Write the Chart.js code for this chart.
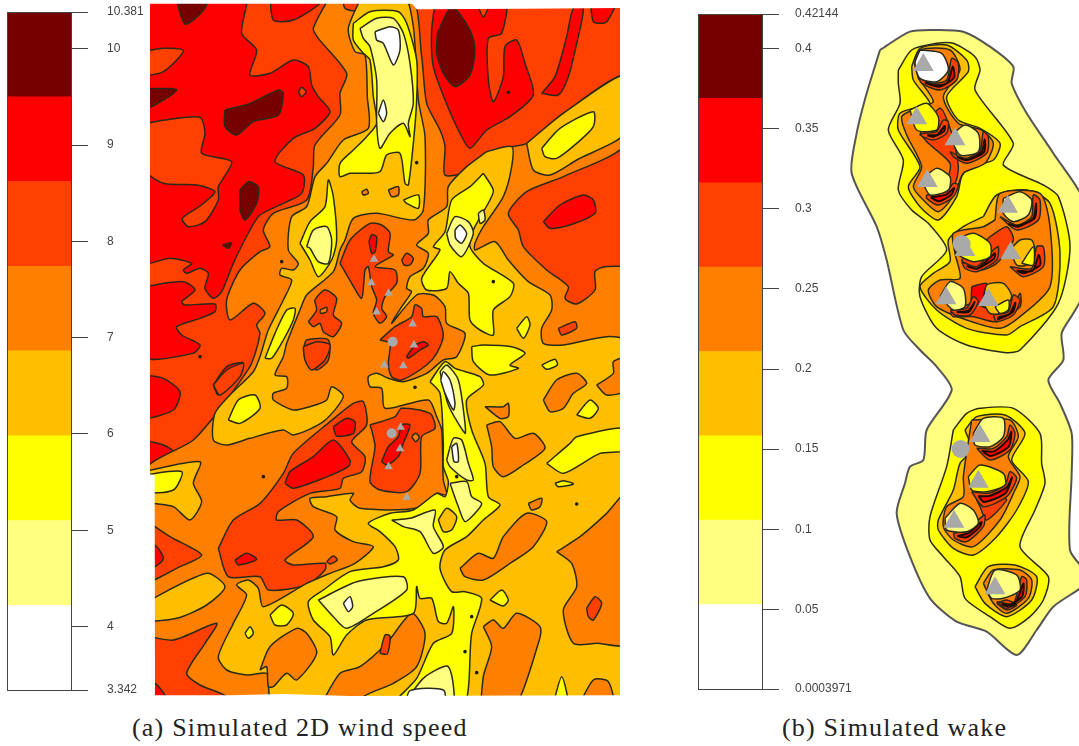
<!DOCTYPE html>
<html>
<head>
<meta charset="utf-8">
<title>Simulated wind speed and wake</title>
<script src="https://cdn.jsdelivr.net/npm/chart.js@4"></script>
<style>
  html, body { margin: 0; background: #fff; }
  canvas { position: absolute; }
  .cap { position: absolute; top: 713px; font-family: "Liberation Serif", serif; font-size: 26px; letter-spacing: 1.2px; color: #222; white-space: nowrap; }
</style>
</head>
<body>
<canvas id="barA" width="150" height="700" style="left:0;top:0"></canvas>
<canvas id="mapA" width="470" height="700" style="left:150px;top:0"></canvas>
<canvas id="barB" width="170" height="700" style="left:691px;top:0"></canvas>
<canvas id="mapB" width="239" height="650" style="left:840px;top:20px"></canvas>
<div class="cap" style="left:132px">(a) Simulated 2D wind speed</div>
<div class="cap" style="left:782px">(b) Simulated wake</div>
<script>
// bands, low value to high value
const bandColors = ["#FFFFFF", "#FFFF80", "#FFFF00", "#FFBF00", "#FF8000", "#FF4000", "#FF0000", "#760000"];

const speedBreaks = [3.342, 4.222, 5.102, 5.982, 6.862, 7.741, 8.621, 9.501, 10.381];
const speedTicks = [3.342, 4, 5, 6, 7, 8, 9, 10, 10.381];
const wakeBreaks = [0.0003971, 0.0530, 0.1057, 0.1583, 0.2109, 0.2636, 0.3162, 0.3688, 0.42144];
const wakeTicks = [0.0003971, 0.05, 0.1, 0.15, 0.2, 0.25, 0.3, 0.35, 0.4, 0.42144];

// contour rings: [band, x, y, x, y, ...] in map units, painted in this order
const windBase = [[5, -20,-20, 1430,-20, 1430,2120, -20,2120]];

const windUpperLeft = [
  [6, -20,-20, 285,-20, 275,100, 320,150, 300,225, 360,220, 430,180, 475,200, 485,255, 505,290, 540,335, 495,385, 430,415, 375,485, 460,525, 455,580, 400,610, 330,645, 300,690, 250,790, 215,875, 190,895, 165,865, 175,820, 150,805, 110,820, 100,810, 125,790, 60,775, -20,785],
  [5, -20,372, 60,358, 150,352, 165,400, 155,460, 245,485, 205,560, 205,600, 165,665, 115,680, 97,655, 150,618, 195,575, 140,555, 40,550, -20,505],
  [5, -20,155, 40,145, 100,152, 40,215, -20,222],
  [6, -20,860, 100,845, 135,870, 95,905, 105,915, 195,912, 195,935, 150,955, 80,980, 95,1005, 150,1035, 130,1060, -20,1070],
  [6, 360,-20, 370,60, 430,60, 510,10, 510,-20],
  [7, 75,-20, 105,72, 165,25, 172,-20],
  [7, -20,265, 80,270, -20,328],
  [7, 225,330, 300,310, 385,270, 400,280, 385,345, 310,365, 260,405, 225,380],
  [7, 270,570, 295,545, 325,560, 320,610, 285,660, 270,630],
  [7, 218,735, 245,728, 235,745],
  [5, 445,275, 455,262, 468,275, 455,290],
  [6, 190,1155, 230,1100, 280,1088, 245,1130, 205,1185],
  [6, -20,1125, 40,1135, 90,1175, 70,1230, -20,1250],
  [6, -20,1320, 40,1335, 70,1355, 40,1385, -20,1400]
];

const windUpperRight = [
  [6, 860,-20, 845,90, 850,200, 885,300, 930,400, 960,445, 1010,390, 1080,350, 1150,285, 1125,190, 1100,120, 1065,140, 1060,230, 1030,305, 1015,240, 1015,115, 1055,100, 1065,-20],
  [7, 862,100, 905,20, 960,90, 975,150, 960,225, 915,260, 880,220, 860,160],
  [5, 970,-20, 1000,50, 1025,-20],
  [6, 1175,280, 1215,230, 1250,110, 1270,25, 1300,25, 1280,130, 1255,230, 1225,285],
  [6, 1320,-20, 1330,65, 1370,65, 1405,-20],
  [6, 1180,665, 1230,615, 1300,585, 1330,600, 1335,640, 1260,675, 1200,685]
];

const windOrange = [
  [4, 545,-20, 490,85, 505,115, 590,220, 570,280, 570,345, 495,435, 490,500, 470,600, 370,640, 340,690, 360,740, 330,755, 270,810, 230,900, 240,960, 310,910, 345,940, 320,975, 330,1000, 305,1090, 280,1130, 200,1240, 130,1320, -20,1420, -20,2120, 1430,2120, 1430,810, 1365,800, 1335,815, 1335,870, 1280,912, 1245,895, 1255,860, 1190,810, 1120,740, 1105,690, 1075,640, 1130,575, 1240,530, 1430,430, 1430,225, 1240,340, 1130,430, 1085,440, 1020,455, 950,515, 885,525, 885,440, 870,390, 830,310, 815,170, 780,-20],
  [5, 575,-20, 585,25, 620,30, 630,-20]
];

// islands sitting on the orange, y measured from the centre of the map
const windIslands = [
  [5, 205,595, 250,510, 330,460, 400,370, 430,310, 540,215, 610,160, 640,155, 650,225, 605,275, 645,320, 635,365, 580,385, 570,415, 480,430, 385,485, 380,510, 440,510, 490,560, 405,630, 430,645, 525,640, 525,660, 470,705, 355,720, 330,680, 235,680],
  [6, 405,400, 420,365, 490,320, 550,270, 600,330, 595,350, 520,385, 430,415],
  [6, 550,230, 590,205, 615,215, 610,250, 560,258],
  [6, 255,630, 290,610, 320,628, 265,645],
  [5, 530,635, 550,618, 562,630, 540,642],
  [5, -20,505, 60,560, 155,615, 90,650, -20,695],
  [6, -20,585, 15,585, 40,625, 15,650, -20,650],
  [5, -20,855, 70,870, 200,820, 165,880, 110,970, 150,1005, 230,1040, 230,1080, -20,1080],
  [6, -20,1000, 15,1000, 50,1045, 50,1080, -20,1080],
  [5, 660,225, 735,200, 755,175, 840,190, 855,235, 815,260, 810,370, 770,425, 690,420, 660,395, 675,290, 665,240],
  [6, 695,335, 715,290, 745,260, 755,225, 780,225, 760,280, 745,320, 710,345],
  [4, 785,260, 797,250, 808,262, 797,275],
  [5, 460,0, 470,40, 500,60, 535,30, 535,-30, 470,-30],
  [5, 190,105, 230,60, 280,40, 270,80, 210,135]
];

const windAmber = [
  [3, 640,-20, 595,85, 615,155, 645,165, 652,290, 655,385, 580,420, 530,490, 495,530, 470,620, 425,650, 415,750, 445,790, 430,810, 395,805, 390,825, 425,840, 400,900, 355,990, 330,1070, 310,1115, 240,1185, 195,1240, 190,1320, 230,1335, 300,1315, 400,1290, 430,1305, 520,1265, 580,1190, 545,1160, 530,1200, 480,1220, 430,1230, 370,1200, 370,1180, 410,1165, 410,1130, 375,1125, 400,1070, 410,1030, 450,930, 470,885, 550,815, 570,750, 585,720, 610,655, 680,640, 790,660, 820,630, 825,410, 805,300, 790,80, 760,-20],
  [3, 1010,455, 1085,440, 1085,500, 1060,590, 1000,680, 975,730, 975,750, 1035,725, 1075,780, 1135,845, 1200,885, 1205,930, 1175,985, 1180,1030, 1240,1035, 1370,1010, 1430,1025, 1430,2120, 370,2120, 355,2055, 350,2020, 290,2025, 230,2010, 205,1970, 250,1870, 290,1785, 260,1755, 295,1740, 325,1765, 340,1820, 470,1750, 540,1720, 615,1690, 670,1640, 610,1625, 555,1590, 560,1550, 490,1520, 480,1495, 530,1490, 610,1480, 600,1500, 630,1525, 795,1525, 860,1480, 890,1485, 880,1440, 875,1290, 860,1250, 835,1200, 705,1225, 695,1165, 660,1160, 655,1130, 680,1120, 715,1135, 760,1145, 830,1120, 880,1080, 920,1070, 945,1000, 890,970, 885,920, 850,885, 800,885, 725,970, 755,920, 785,875, 770,865, 780,830, 820,805, 835,760, 800,735, 835,700, 835,660, 890,620, 895,560, 950,500],
  [3, 1130,430, 1240,340, 1430,225, 1430,395, 1280,480, 1200,525, 1150,510]
];

// amber blocks below use y from the centre of the map too
const windAmberSouth = [
  [3, -20,760, 170,670, 225,710, 170,765, 80,805, -20,810],
  [3, -20,365, 150,335, 130,400, 155,455, 120,510, 70,470, -20,450]
];

const windOnAmber = [
  [4, 1180,150, 1220,90, 1280,70, 1310,100, 1270,130, 1240,175, 1200,185],
  [4, 1340,105, 1390,70, 1390,35, 1430,25, 1430,120, 1370,135],
  [4, 1005,170, 1060,170, 1075,160, 1075,200, 1050,205],
  [4, 1010,225, 1050,215, 1095,265, 1150,250, 1185,295, 1120,345, 1060,380, 1030,350, 1025,290],
  [4, 930,655, 985,610, 1030,625, 1060,560, 1130,490, 1190,515, 1150,590, 1080,640, 1000,690, 945,680],
  [4, 1220,605, 1290,560, 1370,490, 1430,430, 1430,880, 1340,880, 1270,880, 1240,780, 1280,710, 1265,640],
  [5, 1310,775, 1335,740, 1355,760, 1330,810, 1315,800],
  [4, 505,1080, 570,970, 630,950, 710,880, 785,790, 825,850, 800,950, 730,1000, 640,1040, 620,1080],
  [5, 690,910, 705,855, 720,858, 712,912],
  [4, 1000,830, 1030,810, 1060,835, 1100,790, 1170,830, 1165,880, 1090,1080, 1000,1080, 1000,980, 1025,890],
  [4, 1280,1080, 1330,990, 1375,995, 1390,1080],
  [4, 1135,460, 1175,445, 1170,470, 1145,480],
  [4, 330,960, 360,890, 440,835, 470,850, 500,910, 440,990, 410,970, 370,1010, 355,1010, 350,950]
];

const windYellow = [
  [2, 610,70, 610,120, 640,160, 660,180, 670,290, 680,370, 650,410, 610,450, 570,490, 570,530, 600,520, 630,520, 690,515, 710,465, 750,460, 765,550, 775,555, 790,430, 800,300, 800,180, 770,70, 745,35, 660,35],
  [1, 630,85, 680,55, 730,55, 760,100, 780,190, 790,310, 775,370, 780,410, 760,370, 720,400, 690,445, 680,370, 680,240, 660,140, 640,115],
  [0, 675,95, 720,80, 745,90, 750,150, 730,195, 700,130, 680,120],
  [0, 685,340, 700,300, 710,340, 700,365],
  [2, 450,730, 480,665, 525,620, 535,540, 550,590, 560,720, 545,780, 505,830, 480,780],
  [1, 470,740, 490,690, 530,680, 545,720, 535,790, 505,785, 480,745],
  [2, 345,1075, 375,1000, 410,930, 435,925, 430,960, 400,1020, 365,1075],
  [2, 1000,520, 1030,570, 1020,600, 970,690, 960,740, 1000,790, 1090,850, 1080,890, 1030,930, 1030,1005, 990,990, 960,960, 955,880, 925,850, 900,815, 890,865, 830,870, 815,835, 870,750, 850,740, 885,695, 905,600, 960,560],
  [1, 890,700, 915,650, 955,665, 970,700, 935,770, 900,735],
  [0, 915,690, 930,675, 950,700, 935,730, 917,715],
  [1, 985,640, 1000,630, 1005,660, 990,670],
  [2, 1175,445, 1230,385, 1330,335, 1330,380, 1280,430, 1220,475, 1185,470],
  [2, 1100,985, 1130,950, 1140,975, 1120,1015],
  [5, 1225,985, 1275,965, 1280,985, 1235,1005],
  [2, 965,1040, 1000,1035, 1085,1040, 1125,1060, 1080,1095, 1105,1105, 1020,1125, 970,1085],
  [2, 760,600, 805,585, 805,625, 770,610],
  [4, 715,570, 745,560, 745,585, 725,590],
  [4, 635,575, 650,568, 655,580, 640,585]
];

const windYellowSouth = [
  [2, 840,95, 885,35, 915,55, 990,80, 1000,105, 950,150, 965,240, 1005,340, 1015,440, 1050,465, 1000,510, 950,560, 885,600, 870,655, 905,725, 945,725, 995,745, 965,850, 935,1080, 720,1080, 800,985, 850,880, 905,850, 910,770, 890,820, 865,815, 845,745, 810,745, 800,710, 790,790, 650,810, 590,855, 550,915, 540,860, 490,810, 475,755, 520,720, 600,665, 700,650, 745,630, 735,590, 690,545, 655,520, 720,490, 790,480, 860,430, 885,440, 895,395, 880,350, 880,280, 870,130],
  [3, 865,510, 890,475, 920,500, 905,540, 880,545],
  [1, 725,510, 780,505, 855,480, 850,530, 880,590, 850,610, 810,545, 760,530],
  [1, 900,400, 950,395, 965,440, 995,460, 975,490, 945,515, 925,470],
  [1, 870,65, 890,45, 925,90, 945,220, 945,250, 895,165],
  [0, 872,90, 880,65, 900,90, 915,160, 910,180, 885,130],
  [1, 890,330, 910,265, 935,270, 955,340, 970,390, 950,390, 900,350],
  [0, 905,290, 920,280, 925,335, 912,335],
  [1, 505,750, 620,695, 760,680, 770,720, 670,790, 590,835, 550,800],
  [0, 580,760, 600,740, 608,770, 595,785],
  [1, 750,1080, 820,985, 895,950, 905,1080],
  [0, 765,1070, 780,1022, 880,1020, 880,1070],
  [2, 360,795, 395,765, 430,790, 410,825, 375,825],
  [2, 285,850, 300,830, 310,850, 295,865],
  [2, 1020,750, 1055,720, 1075,750, 1060,768],
  [2, 1190,340, 1260,280, 1280,260, 1430,235, 1430,300, 1350,310, 1240,370],
  [2, 1215,400, 1240,392, 1270,402, 1225,410],
  [2, 1175,45, 1215,28, 1222,45, 1190,58],
  [2, 1205,1080, 1235,980, 1255,1080],
  [2, 1280,195, 1320,150, 1345,175, 1320,205],
  [2, 235,210, 265,150, 315,135, 330,175, 270,220],
  [2, -20,375, 95,365, 70,420, -20,425]
];

const windMiddle = [
  [5, 570,790, 600,720, 660,670, 695,675, 720,700, 715,755, 730,765, 675,800, 735,810, 740,850, 705,890, 695,925, 710,950, 690,970, 670,940, 680,900, 665,860, 655,800, 645,810, 635,895, 605,850],
  [6, 657,725, 665,705, 680,710, 675,755, 665,760],
  [5, 755,780, 770,760, 790,775, 780,795, 762,795],
  [5, 475,965, 500,930, 495,900, 525,870, 560,895, 550,945, 575,970, 550,1010, 520,995, 510,970, 490,980],
  [4, 510,930, 530,922, 530,935, 512,940],
  [5, 460,1040, 500,1025, 540,1035, 525,1080, 485,1110, 465,1080],
  [5, 690,1020, 735,980, 785,950, 795,915, 815,925, 820,950, 860,950, 880,1005, 860,1060, 830,1095, 755,1140, 725,1130, 715,1090, 720,1030],
  [6, 795,1035, 820,1025, 835,1035, 810,1050, 775,1075, 770,1070]
];

const windMask = [
  [0, -20,-20, 1430,-20, 1430,11, -20,11],
  [0, 760,-20, 1430,-20, 1430,24, 1120,26, 800,28],
  [0, -20,1422, 14,1425, 15,2120, -20,2120],
  [0, -20,2086, 240,2086, 400,2082, 600,2088, 1430,2086, 1430,2120, -20,2120]
];

const windTriangleX = [672, 664, 716, 680, 788, 792, 703, 760, 752, 750, 716, 770];
const windTriangleY = [778, 848, 880, 936, 972, 1035, 1095, 1097, 1282, 1346, 1400, 1492];
const windCircleX = [728, 725];
const windCircleY = [1025, 1300];
const windDotX = [1075, 800, 150, 340, 795, 1280, 945, 965, 980, 395, 1030, 920];
const windDotY = [277, 488, 1070, 1430, 1162, 1512, 1955, 1850, 2018, 785, 845, 1430];

const wakeOutline = [
  [1, 120,90, 210,35, 280,30, 370,35, 450,80, 520,140, 515,190, 560,280, 640,400, 740,560, 740,800, 700,880, 665,940, 670,1020, 625,1080, 660,1150, 695,1240, 695,1360, 690,1590, 740,1660, 740,1690, 640,1760, 590,1830, 530,1905, 440,1835, 350,1805, 270,1735, 210,1610, 170,1480, 195,1390, 210,1340, 250,1320, 260,1230, 335,1110, 290,1040, 240,990, 190,930, 140,720, 110,620, 35,460, 50,340, 80,220],
  [2, 175,150, 215,90, 290,70, 340,70, 405,110, 420,150, 405,210, 520,370, 490,435, 610,495, 655,530, 690,680, 655,850, 540,990, 500,998, 380,975, 290,925, 240,830, 245,770, 320,690, 265,610, 215,570, 175,510, 190,420, 145,330, 180,250, 175,190],
  [2, 340,1230, 380,1180, 420,1165, 520,1165, 600,1240, 605,1330, 615,1390, 585,1470, 540,1580, 625,1670, 610,1740, 570,1790, 510,1825, 450,1790, 375,1735, 360,1670, 310,1610, 270,1560, 270,1490, 320,1340]
];

const wakeNorth = [
  [3, 215,140, 240,85, 320,75, 380,120, 385,155, 320,230, 355,300, 420,325, 480,370, 460,420, 390,440, 365,470, 350,530, 295,600, 240,560, 205,500, 240,440, 175,330, 180,280, 240,260, 270,250, 220,180],
  [4, 235,175, 225,130, 240,90, 330,90, 360,150, 310,230, 355,310, 425,330, 460,370, 435,430, 370,460, 345,520, 295,575, 250,540, 220,500, 245,440, 200,345, 185,290, 230,265, 280,245],
  [5, 240,340, 300,265, 335,340, 355,440, 345,490, 300,540, 270,530, 320,480, 330,430, 265,370],
  [3, 430,590, 470,525, 560,510, 630,550, 660,700, 640,860, 540,920, 500,945, 380,925, 290,870, 240,800, 280,760, 330,725, 325,660, 370,620],
  [4, 465,600, 480,520, 600,520, 630,620, 630,800, 540,890, 480,925, 380,900, 290,860, 265,810, 300,780, 360,775, 345,700, 340,640, 430,620],
  [5, 450,650, 500,620, 520,660, 470,730, 420,750, 365,720, 400,700],
  [6, 395,800, 440,790, 430,830, 420,870, 395,875],
  [5, 330,880, 400,850, 500,890, 540,820, 540,860, 470,905, 400,890, 340,890]
];

const wakeSouth = [
  [3, 375,240, 410,200, 495,195, 555,250, 515,330, 565,395, 530,480, 470,560, 400,615, 340,595, 295,540, 295,510, 340,420, 360,340, 395,300],
  [4, 395,210, 510,210, 535,260, 505,320, 540,380, 525,420, 480,510, 400,590, 340,570, 310,530, 320,470, 370,440, 370,380],
  [5, 410,450, 480,440, 500,450, 440,510, 420,470],
  [3, 405,710, 445,650, 525,645, 590,680, 575,750, 500,800, 435,760],
  [4, 430,700, 460,660, 540,660, 575,690, 565,745, 500,790, 460,760],
  [5, 470,760, 500,750, 530,765, 500,780]
];

// orange-red rims behind each turbine, a red crescent inside, then the cores
const wakeRimsNorth = [
  [5, 235,170, 275,190, 320,180, 335,115, 355,130, 350,180, 300,210, 245,190],
  [5, 250,340, 290,335, 310,300, 325,305, 320,340, 280,360, 240,345],
  [5, 330,395, 375,415, 420,390, 430,335, 445,350, 440,400, 380,430, 340,410],
  [5, 260,525, 320,515, 340,490, 355,495, 340,530, 295,555, 260,535],
  [5, 480,590, 530,615, 575,590, 580,525, 600,540, 595,600, 530,630],
  [5, 365,725, 410,740, 460,690, 475,680, 470,720, 410,755, 375,745],
  [5, 510,740, 575,745, 590,680, 610,680, 610,740, 550,770],
  [5, 330,870, 380,865, 400,830, 415,845, 390,885, 345,885],
  [5, 460,885, 505,875, 520,825, 540,840, 520,885, 470,905]
];

const wakeCrescentsNorth = [
  [6, 255,188, 285,196, 322,188, 338,140, 342,172, 298,200],
  [6, 262,346, 292,344, 314,318, 312,334, 280,350],
  [6, 350,410, 378,420, 424,396, 434,358, 432,396, 382,420],
  [6, 272,532, 318,524, 342,504, 334,524, 296,544],
  [6, 505,612, 534,620, 580,594, 588,550, 584,594, 532,618],
  [6, 380,738, 412,746, 464,700, 462,716, 410,746],
  [6, 530,752, 578,752, 596,705, 600,735, 552,760],
  [6, 350,876, 384,872, 404,846, 386,876],
  [6, 475,892, 508,882, 526,848, 518,876, 474,898]
];

const wakeRimsSouth = [
  [5, 410,295, 460,295, 500,260, 510,225, 525,250, 510,300, 450,330],
  [5, 395,425, 445,430, 495,405, 510,365, 530,385, 500,440, 430,470],
  [5, 340,550, 385,540, 420,505, 435,495, 430,530, 380,575, 345,565],
  [5, 470,755, 520,760, 545,680, 560,690, 555,740, 500,775]
];

const wakeCrescentsSouth = [
  [6, 425,303, 462,304, 504,268, 514,245, 506,290, 452,318],
  [6, 415,438, 448,438, 500,412, 516,382, 496,430, 432,456],
  [6, 352,558, 388,548, 424,516, 420,530, 380,562],
  [6, 485,762, 522,766, 550,700, 546,740, 502,768]
];

const wakeCoresNorth = [
  [0, 240,90, 305,100, 325,150, 290,185, 240,175, 225,130],
  [2, 210,270, 260,250, 295,290, 290,330, 230,330],
  [1, 330,350, 375,315, 415,340, 415,395, 360,405],
  [1, 245,480, 290,445, 330,470, 325,510, 270,525],
  [1, 490,535, 540,515, 575,540, 565,585, 520,605, 490,580],
  [2, 345,660, 400,640, 450,670, 450,710, 400,725, 350,700],
  [3, 510,690, 540,660, 575,660, 585,700, 560,735, 530,735],
  [2, 545,730, 580,680, 580,735],
  [1, 300,830, 330,785, 370,805, 375,860, 340,870],
  [3, 430,850, 440,795, 490,790, 515,830, 480,880, 450,880],
  [2, 465,860, 505,840, 505,870, 480,880]
];

const wakeCoresSouth = [
  [1, 400,250, 430,205, 490,205, 490,260, 450,290, 405,285],
  [2, 385,380, 420,345, 490,370, 495,405, 440,425, 395,420],
  [1, 315,505, 360,460, 400,480, 415,520, 380,545, 320,540],
  [1, 440,720, 465,660, 530,675, 540,720, 490,745, 455,745]
];

const wakeTriangleX = [250, 230, 345, 262, 503, 512, 375, 318, 445, 420, 415, 342, 465];
const wakeTriangleY = [135, 295, 358, 483, 560, 700, 690, 835, 840, 1248, 1385, 1505, 1705];
const wakeCircleX = [365, 362];
const wakeCircleY = [672, 1287];

const southOffset = 1050;
const wakeOffset = 990;

// rings to closed point lists
function ring(row, dy) {
  const pts = [];
  for (let i = 1; i < row.length; i += 2) pts.push({ x: row[i], y: row[i + 1] + dy });
  pts.push(pts[0]);
  return pts;
}

function ringDatasets(groups) {
  const out = [];
  groups.forEach(g => {
    g.rows.forEach(row => {
      out.push({
        data: ring(row, g.dy || 0),
        showLine: true,
        fill: "shape",
        tension: g.flat ? 0 : 0.25,
        backgroundColor: bandColors[row[0]],
        borderColor: g.flat ? "rgba(0,0,0,0)" : (g.color || "#2a2a1c"),
        borderWidth: g.flat ? 0 : (g.line || 1.5),
        pointRadius: 0,
        order: -out.length
      });
    });
  });
  return out;
}

function markerDataset(xs, ys, style, radius, color) {
  return {
    data: xs.map((x, i) => ({ x: x, y: ys[i] })),
    showLine: false,
    pointStyle: style,
    pointRadius: radius,
    pointBackgroundColor: color,
    pointBorderWidth: 0,
    order: -5000
  };
}

function drawMap(id, datasets, xMax, yMax) {
  new Chart(document.getElementById(id).getContext("2d"), {
    type: "scatter",
    data: { datasets: datasets },
    options: {
      responsive: false,
      animation: false,
      events: [],
      layout: { padding: 0, autoPadding: false },
      plugins: { legend: { display: false }, tooltip: { enabled: false } },
      scales: {
        x: { type: "linear", display: false, min: 0, max: xMax },
        y: { type: "linear", display: false, min: 0, max: yMax, reverse: true }
      }
    }
  });
}

// colour key: floating bars between the breaks, axis on the right
function drawKey(id, breaks, ticks, top, bottom, left, axisWidth, labelGap) {
  const sets = [];
  for (let i = 0; i < breaks.length - 1; i++) {
    sets.push({
      data: [[breaks[i], breaks[i + 1]]],
      backgroundColor: bandColors[i],
      barPercentage: 1,
      categoryPercentage: 1,
      grouped: false
    });
  }
  const outline = {
    id: "outline",
    afterDatasetsDraw(chart) {
      const a = chart.chartArea;
      const c = chart.ctx;
      c.save();
      c.strokeStyle = "#444";
      c.lineWidth = 1;
      c.strokeRect(a.left + 0.5, a.top + 0.5, a.right - a.left, a.bottom - a.top);
      c.restore();
    }
  };
  new Chart(document.getElementById(id).getContext("2d"), {
    type: "bar",
    data: { labels: [""], datasets: sets },
    plugins: [outline],
    options: {
      responsive: false,
      animation: false,
      events: [],
      layout: { padding: { left: left, top: top, bottom: bottom, right: 0 }, autoPadding: false },
      plugins: { legend: { display: false }, tooltip: { enabled: false } },
      scales: {
        x: { display: false },
        y: {
          position: "right",
          min: breaks[0],
          max: breaks[breaks.length - 1],
          afterBuildTicks: s => { s.ticks = ticks.map(v => ({ value: v })); },
          afterFit: s => { s.width = axisWidth; s.paddingTop = 0; s.paddingBottom = 0; },
          grid: { drawOnChartArea: false, drawTicks: true, tickLength: 17, color: "#444" },
          border: { color: "#444" },
          ticks: {
            autoSkip: false,
            padding: labelGap,
            color: "#444",
            font: { family: "Liberation Sans", size: 12 },
            callback: v => String(v)
          }
        }
      }
    }
  });
}

drawKey("barA", speedBreaks, speedTicks, 12, 10, 7, 79, 19);
drawKey("barB", wakeBreaks, wakeTicks, 14, 11, 7, 99, 16);

drawMap("mapA", ringDatasets([
  { rows: windBase, flat: true },
  { rows: windUpperLeft },
  { rows: windUpperRight },
  { rows: windOrange },
  { rows: windIslands, dy: southOffset },
  { rows: windMiddle },
  { rows: windAmber },
  { rows: windAmberSouth, dy: southOffset },
  { rows: windOnAmber, dy: southOffset },
  { rows: windYellow },
  { rows: windYellowSouth, dy: southOffset },
  { rows: windMask, flat: true }
]).concat([
  markerDataset(windDotX, windDotY, "circle", 1.8, "#1c1c10"),
  markerDataset(windTriangleX, windTriangleY, "triangle", 5, "#A9A9A9"),
  markerDataset(windCircleX, windCircleY, "circle", 5, "#A9A9A9")
]), 1410, 2100);

drawMap("mapB", ringDatasets([
  { rows: wakeOutline.slice(0, 1), color: "#555", line: 2 },
  { rows: wakeOutline.slice(1) },
  { rows: wakeNorth },
  { rows: wakeSouth, dy: wakeOffset },
  { rows: wakeRimsNorth },
  { rows: wakeRimsSouth, dy: wakeOffset },
  { rows: wakeCrescentsNorth, line: 2, color: "#1a0a00" },
  { rows: wakeCrescentsSouth, dy: wakeOffset, line: 2, color: "#1a0a00" },
  { rows: wakeCoresNorth },
  { rows: wakeCoresSouth, dy: wakeOffset }
]).concat([
  markerDataset(wakeTriangleX, wakeTriangleY, "triangle", 12, "#A9A9A9"),
  markerDataset(wakeCircleX, wakeCircleY, "circle", 9, "#A9A9A9")
]), 717, 1950);
</script>
</body>
</html>
